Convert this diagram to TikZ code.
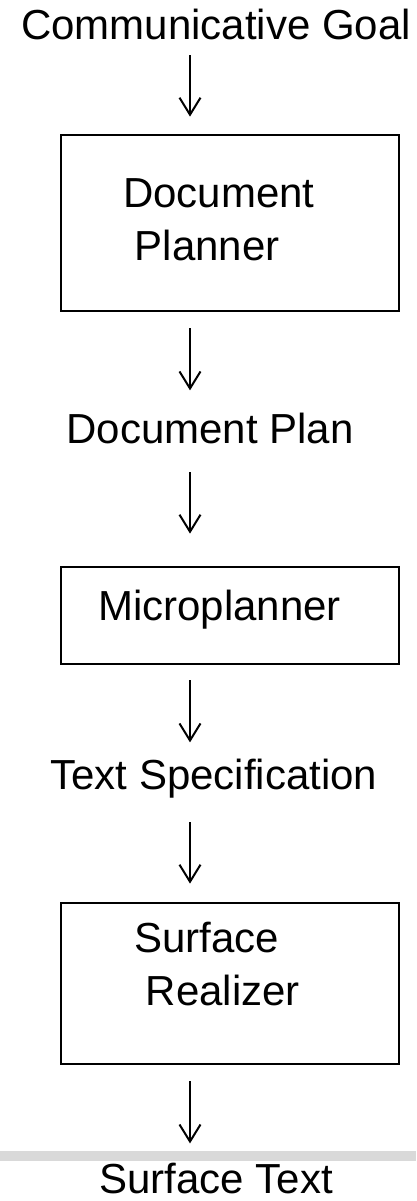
\documentclass[tikz,border=0pt]{standalone}
\usepackage{fontspec}
\setmainfont{Liberation Sans}
\usetikzlibrary{positioning,arrows.meta}
\definecolor{bargray}{RGB}{217,217,217}

\begin{document}
\begin{tikzpicture}[x=1pt,y=-1pt,font=\fontsize{42}{53}\selectfont,
  lbl/.style={inner sep=0pt,text depth=0pt,anchor=base},
  stage/.style={draw,line width=2.8pt,minimum width=338pt},
  boxtxt/.style={inner sep=0pt,anchor=base west,align=left},
  flow/.style={line width=2pt,-{Straight Barb[length=17pt,width=21pt]}}]
  \useasboundingbox (0,0) rectangle (416,1201);
  \coordinate (axis) at (190,0);

  % stages
  \node[stage,minimum height=176pt] (planner) at (230,223) {};
  \node[stage,minimum height=97pt] (micro) at (230,615.5) {};
  \node[stage,minimum height=161pt] (realizer) at (230,983.5) {};
  \node[boxtxt] (plannerTxt) at (123,260) {Document\\ \hspace*{.278em}Planner};
  \node[boxtxt] (microTxt) at (98,620) {Microplanner};
  \node[boxtxt] (realizerTxt) at (134,1005) {Surface\\ \hspace*{.278em}Realizer};

  % data between stages
  \node[lbl] (goal) at (216,40) {Communicative Goal};
  \node[lbl] (plan) at (210,443) {Document Plan};
  \node[lbl] (spec) at (214,789) {Text Specification};
  \node[lbl] (surf) at (216,1193) {Surface Text};
  \fill[bargray] (0,1151) rectangle (416,1161);

  \foreach \from/\to/\s/\e in {goal/planner/15/17,planner/plan/16/22,plan/micro/29/32,
      micro/spec/15/16,spec/realizer/33/18,realizer/surf/16/19}
    \draw[flow,shorten <=\s pt,shorten >=\e pt] (\from.south -| axis) -- (\to.north -| axis);
\end{tikzpicture}
\end{document}
